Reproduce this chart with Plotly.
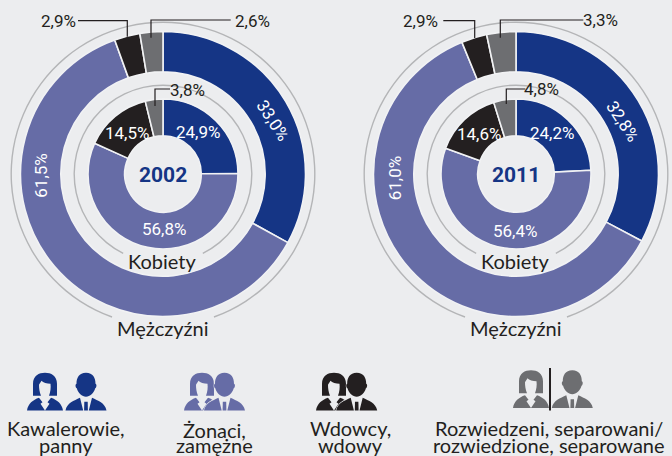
import plotly.graph_objects as go

# ---- data ----
categories = ["Kawalerowie, panny", "Żonaci, zamężne", "Wdowcy, wdowy",
              "Rozwiedzeni, separowani/ rozwiedzione, separowane"]
men_2002 = [33.0, 61.5, 2.9, 2.6]
women_2002 = [24.9, 56.8, 14.5, 3.8]
men_2011 = [32.8, 61.0, 2.9, 3.3]
women_2011 = [24.2, 56.4, 14.6, 4.8]
years = ["2002", "2011"]
group_men = "Mężczyźni"
group_women = "Kobiety"
legend_lines = [["Kawalerowie,", "panny"], ["Żonaci,", "zamężne"],
                ["Wdowcy,", "wdowy"], ["Rozwiedzeni, separowani/", "rozwiedzione, separowane"]]

# ---- style ----
W, H = 672, 456
BG = "#ecedef"
SEP = "#f1f2f4"
NAVY, LILAC, BLACK, GRAY = "#153585", "#666ca6", "#231f20", "#6d6e71"
COLORS = [NAVY, LILAC, BLACK, GRAY]
RING = "#b4b5b7"
DARK = "#231f20"
NUM_FONT = "Roboto"
TXT_FONT = "Lato"


def px(x):
    return x / W


def py(y):
    return 1 - y / H


def pct(v):
    return f"{v:.1f}%".replace(".", ",")


fig = go.Figure()
annotations = []
shapes = []


def add_pie(values, colors, cx, cy, r, hole, rotation=0, line=1.6):
    fig.add_trace(go.Pie(
        values=values, sort=False, direction="clockwise", rotation=rotation,
        hole=hole, textinfo="none", hoverinfo="skip", showlegend=False,
        marker=dict(colors=colors, line=dict(color=SEP, width=line)),
        domain=dict(x=[px(cx - r), px(cx + r)], y=[py(cy + r), py(cy - r)]),
    ))


def add_ring(cx, cy, r, gap):
    fig.add_trace(go.Pie(
        values=[100 - gap, gap], sort=False, direction="clockwise",
        rotation=180 + gap * 1.8, hole=(r - 1.4) / r, textinfo="none",
        hoverinfo="skip", showlegend=False,
        marker=dict(colors=[RING, "rgba(0,0,0,0)"], line=dict(width=0)),
        domain=dict(x=[px(cx - r), px(cx + r)], y=[py(cy + r), py(cy - r)]),
    ))


def text(x, y, s, size, color=DARK, font=NUM_FONT, angle=0, bold=False):
    if bold:
        s = f"<b>{s}</b>"
    annotations.append(dict(
        x=px(x), y=py(y), xref="paper", yref="paper", text=s, showarrow=False,
        xanchor="center", yanchor="middle", textangle=angle,
        font=dict(family=font, size=size, color=color), borderpad=0,
    ))


def polyline(pts, color=DARK, width=1.2):
    d = "M" + " L".join(f"{px(a):.5f},{py(b):.5f}" for a, b in pts)
    shapes.append(dict(type="path", path=d, xref="paper", yref="paper",
                       line=dict(color=color, width=width)))


def icon_path(cmds, ox, oy):
    """cmds: list of (letter, [x, y, x, y ...]) in local pixel units"""
    out = []
    for c, vals in cmds:
        if c == "Z":
            out.append("Z")
            continue
        nums = []
        for i in range(0, len(vals), 2):
            nums.append(f"{px(ox + vals[i]):.5f},{py(oy + vals[i + 1]):.5f}")
        out.append(c + " ".join(nums))
    return " ".join(out)


def fill(cmds, ox, oy, color, outline=None):
    shapes.append(dict(type="path", path=icon_path(cmds, ox, oy), xref="paper", yref="paper",
                       fillcolor=color, layer="above",
                       line=dict(color=outline or color, width=1.4 if outline else 0)))


W_HAIR = [("M", [-12, 23]), ("L", [-12, 11]), ("C", [-12, 3, -6, 0, 0, 0]),
          ("C", [6, 0, 12, 3, 12, 11]), ("L", [12, 23]), ("L", [4, 23]),
          ("C", [5.5, 19, 6, 15, 5.5, 11]), ("C", [2, 11, -2, 10, -3.5, 8]),
          ("C", [-4.5, 10, -5.5, 11, -6, 12]), ("C", [-6, 16, -5.5, 19, -4, 23]), ("Z", [])]
W_BODY = [("M", [-18, 37.7]), ("C", [-17, 31, -12, 27, -6, 25]), ("L", [-2.5, 29.5]),
          ("L", [-4.5, 31]), ("L", [0, 37.7]), ("L", [4.5, 31]), ("L", [2.5, 29.5]),
          ("L", [6, 25]), ("C", [12, 27, 17, 31, 18, 37.7]), ("Z", [])]
M_HEAD = [("M", [0, 0]), ("C", [7, 0, 9.5, 5, 9.5, 11]), ("C", [10.8, 11, 10.8, 15, 9.2, 15.5]),
          ("C", [8, 20, 4, 24, 0, 24]), ("C", [-4, 24, -8, 20, -9.2, 15.5]),
          ("C", [-10.8, 15, -10.8, 11, -9.5, 11]), ("C", [-9.5, 5, -7, 0, 0, 0]), ("Z", [])]
M_BODY_L = [("M", [-20.5, 37.7]), ("C", [-19, 30, -12, 28, -6, 25]), ("L", [-2.8, 37.7]), ("Z", [])]
M_BODY_R = [("M", [20.5, 37.7]), ("C", [19, 30, 12, 28, 6, 25]), ("L", [2.8, 37.7]), ("Z", [])]
M_TIE = [("M", [-1.7, 29]), ("L", [1.7, 29]), ("L", [1.9, 37.7]), ("L", [-1.9, 37.7]), ("Z", [])]
M_BACK = [("M", [-20.5, 37.7]), ("C", [-19, 30, -12, 28, -7, 25]), ("C", [-9, 20, -11, 15, -10, 11]),
          ("C", [-10, 3, -6, 0, 0, 0]), ("C", [6, 0, 10, 3, 10, 11]), ("C", [11, 15, 9, 20, 7, 25]),
          ("C", [12, 28, 19, 30, 20.5, 37.7]), ("Z", [])]


def woman(cx, top, color):
    fill(W_HAIR, cx, top, color)
    fill(W_BODY, cx, top, color)


def man(cx, top, color, halo=False):
    if halo:
        fill(M_BACK, cx, top, BG, outline=BG)
    fill(M_HEAD, cx, top, color)
    fill(M_BODY_L, cx, top, color)
    fill(M_BODY_R, cx, top, color)
    fill(M_TIE, cx, top, color)


# ---- charts ----
panels = [
    dict(cx=163, cy=174, men=men_2002, women=women_2002, year=years[0],
         men_pos=[(272.7, 120, 57), None, (58, 21, 0), (252, 21, 0)],
         men_pos_lilac=(40.7, 176, -90),
         women_pos=[(198, 132, 0), (164, 229, 0), (126.7, 133, 0), (187, 90, 0)],
         lines=[[(78, 20.7), (127.3, 20.7), (127.3, 36.7)],
                [(230.7, 20), (151, 20), (151, 37.7)],
                [(170, 89), (155, 89), (155, 106)]]),
    dict(cx=516, cy=174, men=men_2011, women=women_2011, year=years[1],
         men_pos=[(622.7, 120.7, 57), None, (420, 21, 0), (600.3, 20, 0)],
         men_pos_lilac=(395.3, 178, -90),
         women_pos=[(552, 133, 0), (515.3, 231, 0), (479.3, 133.5, 0), (541.7, 89, 0)],
         lines=[[(443.3, 20.7), (474.7, 20.7), (474.7, 38)],
                [(583.3, 20), (500.3, 20), (500.3, 37.7)],
                [(525.3, 89), (506.3, 89), (506.3, 104)]]),
]

for p in panels:
    cx, cy = p["cx"], p["cy"]
    add_ring(cx, cy, 152.5, 10.9)
    add_ring(cx, cy, 89.5, 14.8)
    add_pie(p["men"], COLORS, cx, cy, 142.5, 0.717)
    add_pie(p["women"], COLORS, cx, cy, 75, 0.51)
    for i, v in enumerate(p["men"]):
        pos = p["men_pos"][i] or p["men_pos_lilac"]
        text(pos[0], pos[1], pct(v), 17, "#ffffff" if i < 2 else DARK, angle=pos[2])
    for i, v in enumerate(p["women"]):
        pos = p["women_pos"][i]
        text(pos[0], pos[1], pct(v), 17, "#ffffff" if i < 3 else DARK, angle=pos[2])
    for ln in p["lines"]:
        polyline(ln)
    text(cx, cy + 1, p["year"], 21, NAVY, bold=True)
    text(cx - 1, cy + 87, group_women, 20, font=TXT_FONT)
    text(cx, cy + 154, group_men, 20, font=TXT_FONT)

# ---- legend icons ----
woman(45, 372.7, NAVY); man(86, 372.7, NAVY)
woman(202, 372.7, LILAC); man(224.5, 372.7, LILAC, halo=True)
woman(334, 372.7, BLACK); man(356.7, 372.7, BLACK, halo=True)
woman(531, 370.3, GRAY); man(572.3, 370.3, GRAY)
polyline([(550, 368), (550, 410.5)], BLACK, 2)

legend_x = [66, 214, 350, 548.5]
legend_y = [[427.5, 445], [429.5, 445], [427.5, 445], [427.5, 445]]
for lines, x, ys in zip(legend_lines, legend_x, legend_y):
    for s, y in zip(lines, ys):
        text(x, y, s, 20, font=TXT_FONT)

fig.update_layout(
    width=W, height=H, margin=dict(l=0, r=0, t=0, b=0), autosize=False,
    paper_bgcolor=BG, plot_bgcolor=BG, showlegend=False,
    annotations=annotations, shapes=shapes,
)
fig.write_html("out.html", config=dict(displayModeBar=False),
               post_script="document.body.style.margin='0';document.body.style.background='%s';" % BG)
